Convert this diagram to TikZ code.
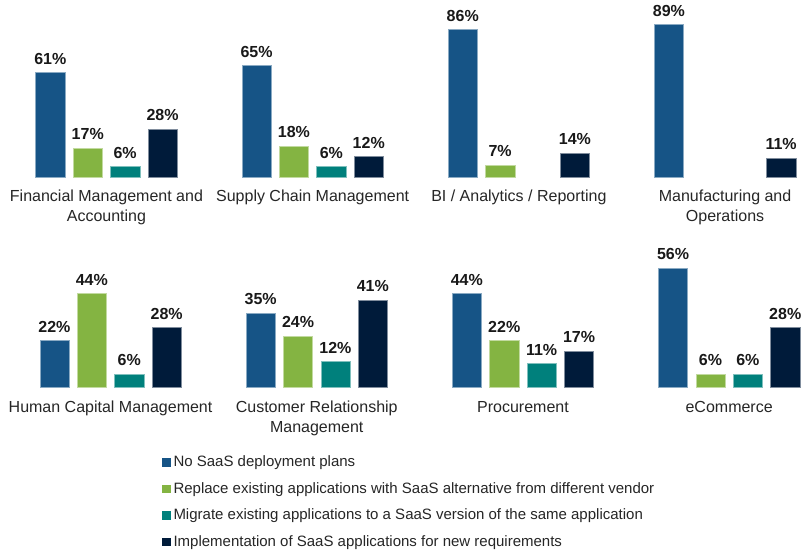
\documentclass[tikz,border=0pt]{standalone}
\usepackage{fontspec}
\setmainfont{Liberation Sans}
\definecolor{cblue}{RGB}{22,84,134}
\definecolor{cgreen}{RGB}{132,180,66}
\definecolor{cteal}{RGB}{0,128,124}
\definecolor{cnavy}{RGB}{0,27,58}
\newcommand\drawpanel[3]{% #1 name, #2 left x, #3 list value/colour
  \foreach \v/\c [count=\j from 0] in {#3}{%
    \ifnum\v>0
      \pgfmathsetmacro\xl{#2+37.4*\j}%
      \pgfmathsetmacro\xr{\xl+29.3}%
      \pgfmathsetmacro\yt{\rowbase-\rowscale*\v}%
      \fill[\c] (\xl,\rowbase) rectangle (\xr,\yt);
      \draw[barline,\c!50!white] (\xl,\rowbase) rectangle (\xr,\yt);
      \node[val] (#1v\j) at ({(\xl+\xr)/2},{\yt-8.3}) {\v\%};
    \fi
  }}
\begin{document}
\begin{tikzpicture}[x=1pt,y=-1pt,
  val/.style={font=\fontsize{16}{19}\selectfont\bfseries, inner sep=0pt, anchor=base, text=black!90},
  cat/.style={font=\fontsize{16}{20}\selectfont, inner sep=0pt, anchor=base, text=black!85},
  leg/.style={font=\fontsize{15}{18}\selectfont, inner sep=0pt, anchor=base west, text=black!85},
  barline/.style={line width=0.5pt}]
\useasboundingbox[fill=white] (0,0) rectangle (801,550);
% top row
\def\rowbase{177}\def\rowscale{1.715}
\drawpanel{fin}{35.7}{61/cblue,17/cgreen,6/cteal,28/cnavy}
\drawpanel{scm}{241.9}{65/cblue,18/cgreen,6/cteal,12/cnavy}
\drawpanel{bi}{448.1}{86/cblue,7/cgreen,0/cteal,14/cnavy}
\drawpanel{mfg}{654.3}{89/cblue,0/cgreen,0/cteal,11/cnavy}
\node[cat] (finA) at (106.45,201.5) {Financial Management and};
\node[cat] (finB) at (106.45,221.5) {Accounting};
\node[cat] (scmA) at (312.65,201.5) {Supply Chain Management};
\node[cat] (biA) at (518.85,201.5) {BI / Analytics / Reporting};
\node[cat] (mfgA) at (725.05,201.5) {Manufacturing and};
\node[cat] (mfgB) at (725.05,221.5) {Operations};
% bottom row
\def\rowbase{387}\def\rowscale{2.12}
\drawpanel{hcm}{39.8}{22/cblue,44/cgreen,6/cteal,28/cnavy}
\drawpanel{crm}{246.0}{35/cblue,24/cgreen,12/cteal,41/cnavy}
\drawpanel{pro}{452.2}{44/cblue,22/cgreen,11/cteal,17/cnavy}
\drawpanel{eco}{658.4}{56/cblue,6/cgreen,6/cteal,28/cnavy}
\node[cat] (hcmA) at (110.55,412.5) {Human Capital Management};
\node[cat] (crmA) at (316.75,412.5) {Customer Relationship};
\node[cat] (crmB) at (316.75,432.5) {Management};
\node[cat] (proA) at (522.95,412.5) {Procurement};
\node[cat] (ecoA) at (729.15,412.5) {eCommerce};
% legend
\foreach \c/\t [count=\i from 0] in {cblue/No SaaS deployment plans,
  cgreen/Replace existing applications with SaaS alternative from different vendor,
  cteal/Migrate existing applications to a SaaS version of the same application,
  cnavy/Implementation of SaaS applications for new requirements}{
  \pgfmathsetmacro\yb{466.7+26.5*\i}
  \fill[\c] (161.7,\yb) rectangle (170.7,{\yb-8.5});
  \node[leg] (leg\i) at (173.3,\yb) {\t};
}
\end{tikzpicture}
\end{document}
